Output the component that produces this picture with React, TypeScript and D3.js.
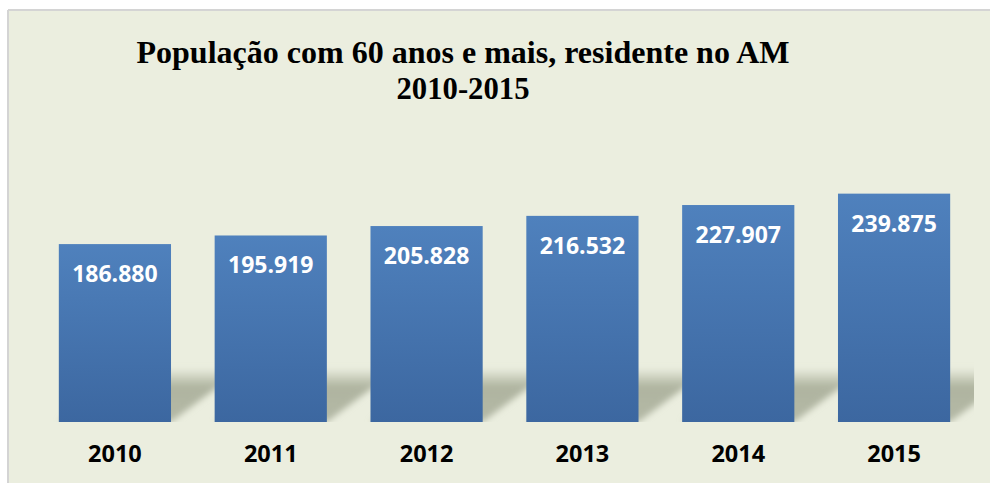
import * as d3 from "d3";
import React from "react";

const years = ["2010", "2011", "2012", "2013", "2014", "2015"];
const values = [186880, 195919, 205828, 216532, 227907, 239875];
const valueLabels = ["186.880", "195.919", "205.828", "216.532", "227.907", "239.875"];
const titleLines = ["População com 60 anos e mais, residente no AM", "2010-2015"];

const width = 990;
const height = 483;

export default function App() {
  const x = d3
    .scaleBand<string>()
    .domain(years)
    .range([37, 972])
    .paddingInner(0.28)
    .paddingOuter(0.14);
  const y = d3.scaleLinear().domain([0, 250000]).range([422, 184]);
  const base = y(0);

  // perspective shadow behind each bar
  const shadowH = 54;
  const shadowDx = 72;
  const shadowPath = (yr: string) => {
    const x0 = x(yr)!;
    const x1 = x0 + x.bandwidth();
    const p = d3.path();
    p.moveTo(x0, base);
    p.lineTo(x1, base);
    p.lineTo(x1 + shadowDx, base - shadowH);
    p.lineTo(x0 + shadowDx, base - shadowH);
    p.closePath();
    return p.toString();
  };

  return (
    <svg
      width={width}
      height={height}
      style={{ position: "absolute", left: 0, top: 0, display: "block" }}
    >
      <defs>
        <linearGradient id="barFill" x1="0" y1="0" x2="0" y2="1">
          <stop offset="0%" stopColor="#4f81bd" />
          <stop offset="100%" stopColor="#3c67a0" />
        </linearGradient>
        <linearGradient id="shadowFill" x1="0" y1="0" x2="0" y2="1">
          <stop offset="0%" stopColor="#afb4a0" stopOpacity="0" />
          <stop offset="35%" stopColor="#afb4a0" stopOpacity="1" />
          <stop offset="100%" stopColor="#b4b9a6" stopOpacity="1" />
        </linearGradient>
        <filter id="blur" x="-20%" y="-40%" width="140%" height="180%">
          <feGaussianBlur stdDeviation="3" />
        </filter>
        <clipPath id="plotClip">
          <rect x={8} y={10} width={966} height={412} />
        </clipPath>
      </defs>

      <rect x={0} y={0} width={width} height={height} fill="#ffffff" />
      <rect x={8} y={10} width={width - 8} height={height - 10} fill="#ebeedf" />
      <line x1={8} y1={10} x2={8} y2={height} stroke="#d4d4d4" strokeWidth={2} />
      <line x1={8} y1={10} x2={width} y2={10} stroke="#d4d4d4" strokeWidth={2} />

      <g
        fontFamily="'Liberation Serif', 'Times New Roman', serif"
        fontWeight="bold"
        fontSize={32}
        textAnchor="middle"
        fill="#000"
      >
        <text x={463} y={63} textLength={653} lengthAdjust="spacingAndGlyphs">
          {titleLines[0]}
        </text>
        <text x={463} y={99} textLength={133} lengthAdjust="spacingAndGlyphs">
          {titleLines[1]}
        </text>
      </g>

      <g clipPath="url(#plotClip)">
        {years.map((yr) => (
          <path key={yr} d={shadowPath(yr)} fill="url(#shadowFill)" filter="url(#blur)" />
        ))}
      </g>

      {years.map((yr, i) => (
        <rect
          key={yr}
          x={x(yr)}
          y={y(values[i])}
          width={x.bandwidth()}
          height={base - y(values[i])}
          fill="url(#barFill)"
        />
      ))}

      <g fontFamily="'Open Sans', sans-serif" fontWeight="bold" textAnchor="middle">
        {years.map((yr, i) => (
          <text
            key={yr}
            x={x(yr)! + x.bandwidth() / 2}
            y={y(values[i]) + 38}
            fontSize={23}
            fill="#ffffff"
          >
            {valueLabels[i]}
          </text>
        ))}
        {years.map((yr) => (
          <text
            key={yr}
            x={x(yr)! + x.bandwidth() / 2}
            y={462}
            fontSize={23.5}
            fill="#000000"
          >
            {yr}
          </text>
        ))}
      </g>
    </svg>
  );
}
